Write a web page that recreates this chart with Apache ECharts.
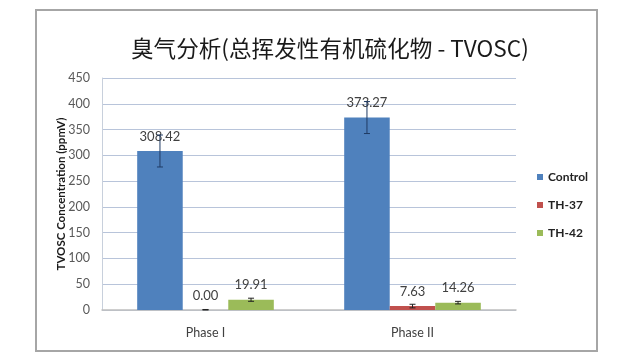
<!DOCTYPE html>
<html>
<head>
<meta charset="utf-8">
<script src="https://cdn.jsdelivr.net/npm/echarts@6/dist/echarts.min.js"></script>
<style>
html,body{margin:0;padding:0;background:#fff;}
#c{width:640px;height:359px;}
</style>
</head>
<body>
<div id="c"></div>
<script>
const categories = ['Phase I', 'Phase II'];
const seriesNames = ['Control', 'TH-37', 'TH-42'];
const controlValues = [308.42, 373.27];
const th37Values = [0.00, 7.63];
const th42Values = [19.91, 14.26];
const controlErr = [31, 31];
const th37Err = [1, 3.5];
const th42Err = [3, 2.5];
const yTicks = [0, 50, 100, 150, 200, 250, 300, 350, 400, 450];

const colors = ['#4f81bd', '#c0504d', '#9bbb59'];
const errColors = ['#1f3b64', '#222222', '#222222'];
const values = [controlValues, th37Values, th42Values];
const errs = [controlErr, th37Err, th42Err];
const catGap = 0.34;
const font = 'Lato, "Open Sans", sans-serif';

const chart = echarts.init(document.getElementById('c'));

function errSeries(idx) {
  return {
    type: 'custom',
    name: seriesNames[idx] + ' err',
    z: 5,
    silent: true,
    data: categories.map((c, i) => [i, values[idx][i], errs[idx][i]]),
    renderItem: function (params, api) {
      const ci = api.value(0), v = api.value(1), e = api.value(2);
      const band = api.size([1, 0])[0];
      const bw = band * (1 - catGap) / 3;
      const off = (idx - 1) * bw;
      const top = api.coord([ci, v + e]);
      const bot = api.coord([ci, Math.max(0, v - e)]);
      const x = top[0] + off;
      const cap = 3;
      const st = { stroke: errColors[idx], lineWidth: 1 };
      return {
        type: 'group',
        children: [
          { type: 'line', shape: { x1: x, y1: top[1], x2: x, y2: bot[1] }, style: st },
          { type: 'line', shape: { x1: x - cap, y1: top[1], x2: x + cap, y2: top[1] }, style: st },
          { type: 'line', shape: { x1: x - cap, y1: bot[1], x2: x + cap, y2: bot[1] }, style: st }
        ]
      };
    }
  };
}

const barSeries = seriesNames.map((n, idx) => ({
  type: 'bar',
  name: n,
  data: values[idx],
  barGap: '0%',
  barCategoryGap: (catGap * 100) + '%',
  itemStyle: { color: colors[idx] },
  z: 2,
  label: {
    show: true,
    position: 'top',
    distance: 8,
    formatter: p => p.value.toFixed(2),
    color: '#404040',
    fontSize: 13,
    fontFamily: font
  }
}));

chart.setOption({
  animation: false,
  backgroundColor: '#ffffff',
  title: {
    text: '臭气分析(总挥发性有机硫化物 - TVOSC)',
    left: 126,
    top: 32,
    textStyle: {
      fontFamily: '"Noto Sans CJK SC", sans-serif',
      fontSize: 22.6,
      fontWeight: 'normal',
      color: '#1a1a1a'
    }
  },
  legend: {
    orient: 'vertical',
    left: 532,
    top: 166,
    itemWidth: 6,
    itemHeight: 6,
    itemGap: 16,
    icon: 'rect',
    data: seriesNames,
    textStyle: { fontFamily: font, fontSize: 12, fontWeight: 'bold', color: '#222' }
  },
  grid: { left: 102, right: 124, top: 78, bottom: 49 },
  xAxis: {
    type: 'category',
    data: categories,
    axisLine: { lineStyle: { color: '#bfbfbf', width: 1.5 } },
    axisTick: { show: false },
    axisLabel: { margin: 16, fontFamily: font, fontSize: 12.5, color: '#404040' }
  },
  yAxis: {
    type: 'value',
    min: yTicks[0],
    max: yTicks[yTicks.length - 1],
    interval: 50,
    name: 'TVOSC Concentration (ppmV)',
    nameLocation: 'middle',
    nameGap: 41,
    nameMoveOverlap: false,
    nameRotate: 90,
    nameTextStyle: { fontFamily: font, fontSize: 11.5, fontWeight: 'bold', color: '#1a1a1a', verticalAlign: 'middle' },
    axisLine: { show: true, lineStyle: { color: '#c8d0dc' } },
    axisTick: { show: false },
    axisLabel: { margin: 12, fontFamily: font, fontSize: 12.5, color: '#595959' },
    splitLine: { lineStyle: { color: '#b8c4da', width: 1 } }
  },
  graphic: [{
    type: 'rect',
    shape: { x: 36, y: 10, width: 561, height: 341 },
    style: { fill: 'none', stroke: '#a6a6a6', lineWidth: 2 },
    silent: true,
    z: -1
  }],
  series: barSeries.concat([errSeries(0), errSeries(1), errSeries(2)])
});
</script>
</body>
</html>
